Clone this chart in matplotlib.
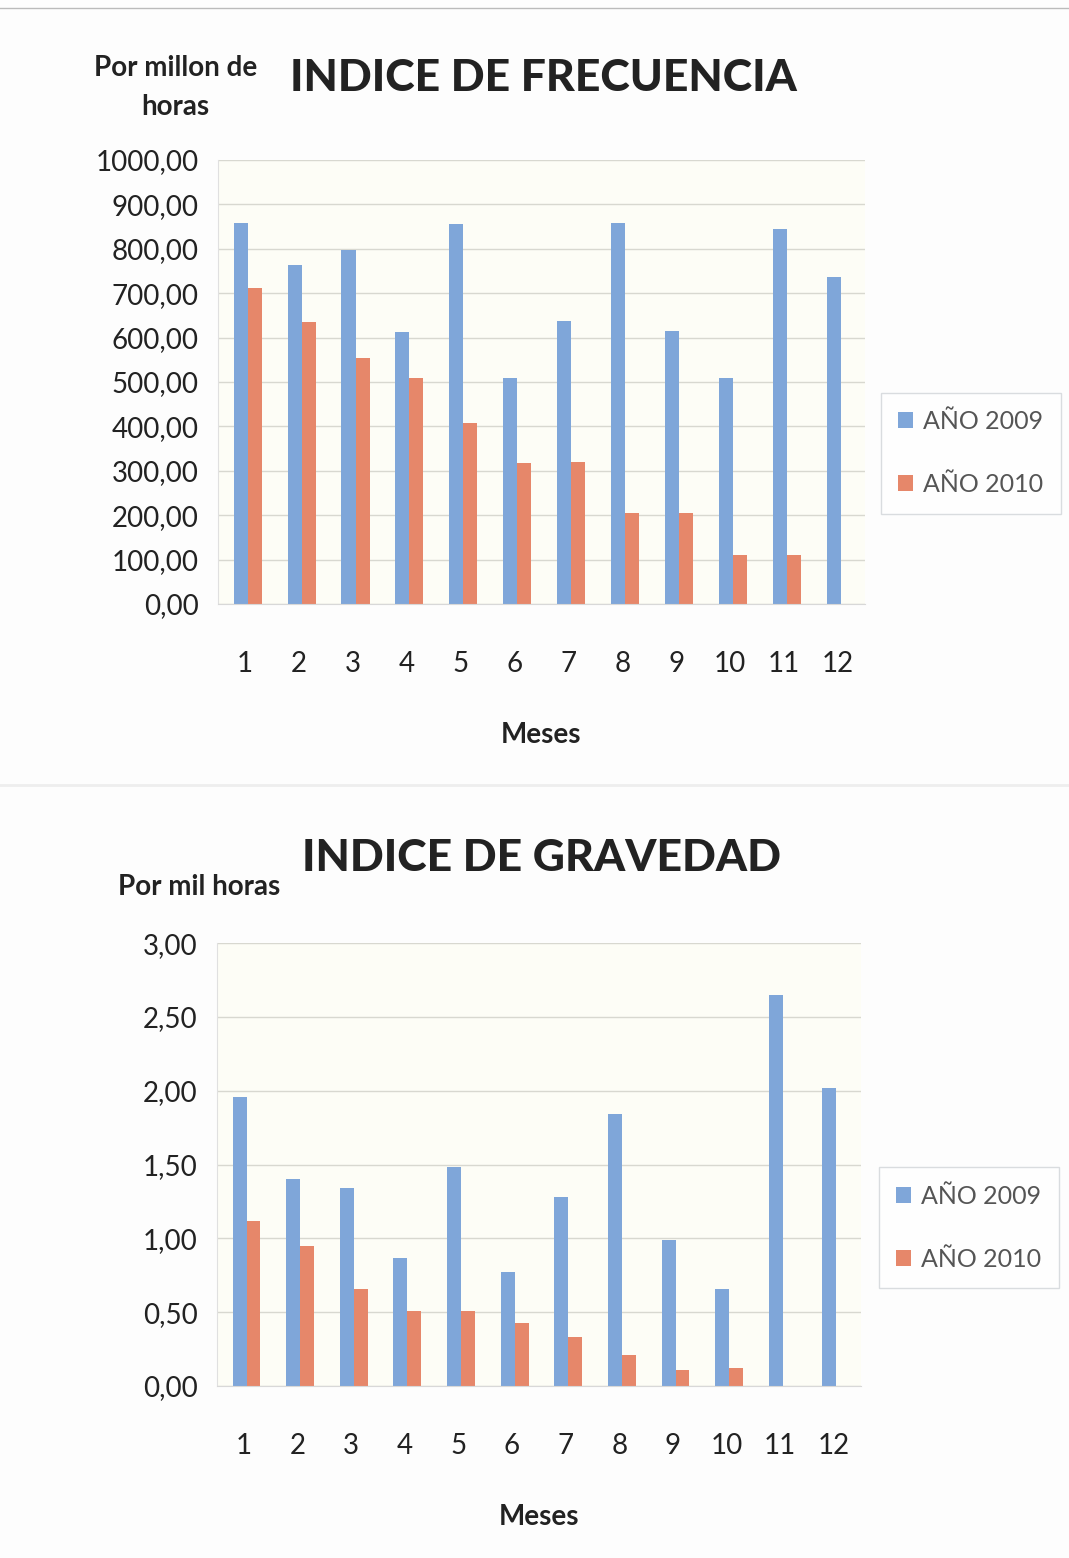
import numpy as np
import matplotlib
matplotlib.use("Agg")
import matplotlib.pyplot as plt
from matplotlib.ticker import FuncFormatter

meses = [1, 2, 3, 4, 5, 6, 7, 8, 9, 10, 11, 12]
series = ["AÑO 2009", "AÑO 2010"]

# indice de frecuencia (por millon de horas)
frec_2009 = [858, 763, 797, 613, 856, 509, 637, 858, 615, 509, 845, 736]
frec_2010 = [712, 635, 554, 509, 408, 318, 320, 205, 205, 110, 110, 0]

# indice de gravedad (por mil horas)
grav_2009 = [1.96, 1.40, 1.34, 0.87, 1.48, 0.77, 1.28, 1.84, 0.99, 0.66, 2.65, 2.02]
grav_2010 = [1.12, 0.95, 0.66, 0.51, 0.51, 0.43, 0.33, 0.21, 0.11, 0.12, 0.0, 0.0]

azul = "#7fa6d9"
naranja = "#e6876a"
texto = "#222222"

plt.rcParams['font.family'] = ['Lato', 'DejaVu Sans']

fig = plt.figure(figsize=(10.69, 15.58), dpi=100)
fig.patch.set_facecolor("#fdfdfd")


def coma(v, pos):
    return ("%.2f" % v).replace(".", ",")


def grafico(rect, y1, y2, ymax, paso, titulo, tpos, ylab, ypos, leg_x, leg_y):
    ax = fig.add_axes(rect)
    ax.set_facecolor("#fdfdf6")
    x = np.array(meses)
    w = 0.26
    ax.bar(x - w / 2 + 0.05, y1, w, color=azul, label=series[0])
    ax.bar(x + w / 2 + 0.05, y2, w, color=naranja, label=series[1])
    ax.set_xlim(0.5, 12.5)
    ax.set_ylim(0, ymax)
    ax.set_yticks(np.arange(0, ymax + paso / 2, paso))
    ax.yaxis.set_major_formatter(FuncFormatter(coma))
    ax.set_xticks(x)
    ax.grid(axis="y", color="#d8d8d0", linewidth=1)
    ax.set_axisbelow(True)
    for s in ["top", "right"]:
        ax.spines[s].set_visible(False)
    ax.spines["left"].set_color("#e0e0e0")
    ax.spines["bottom"].set_color("#d8d8d8")
    ax.tick_params(length=0, labelsize=20, labelcolor=texto)
    ax.tick_params(axis="x", pad=34)
    ax.tick_params(axis="y", pad=14)
    ax.set_xlabel("Meses", fontsize=20, fontweight="bold", color=texto, labelpad=32)
    fig.text(tpos[0], tpos[1], titulo, fontsize=32, fontweight="black",
             color=texto, ha="center", va="center")
    fig.text(ypos[0], ypos[1], ylab, fontsize=20, fontweight="bold",
             color=texto, ha="center", va="center", linespacing=1.6)
    leg = ax.legend(loc="center left", bbox_to_anchor=(leg_x, leg_y), fontsize=18,
                    frameon=True, handlelength=0.6, handleheight=0.6,
                    handletextpad=0.4, labelspacing=1.6, borderpad=0.7,
                    borderaxespad=0, fancybox=False)
    leg.get_frame().set_edgecolor("#d0d4d8")
    for t in leg.get_texts():
        t.set_color("#555555")
    return ax


grafico([0.204, 0.6123, 0.605, 0.285], frec_2009, frec_2010, 1000, 100,
        "INDICE DE FRECUENCIA", (0.508, 0.950), "Por millon de\nhoras",
        (0.164, 0.944), 1.025, 0.34)
grafico([0.203, 0.1104, 0.602, 0.2843], grav_2009, grav_2010, 3.0, 0.5,
        "INDICE DE GRAVEDAD", (0.507, 0.449), "Por mil horas",
        (0.186, 0.431), 1.028, 0.357)

# bordes del documento escaneado
fig.add_artist(plt.Line2D([0.0, 1.0], [0.995, 0.995], color="#bbbbbb", lw=1))
fig.add_artist(plt.Line2D([0.0, 1.0], [0.496, 0.496], color="#eeeeee", lw=2))

fig.savefig("out.png", dpi=100, facecolor=fig.get_facecolor())
